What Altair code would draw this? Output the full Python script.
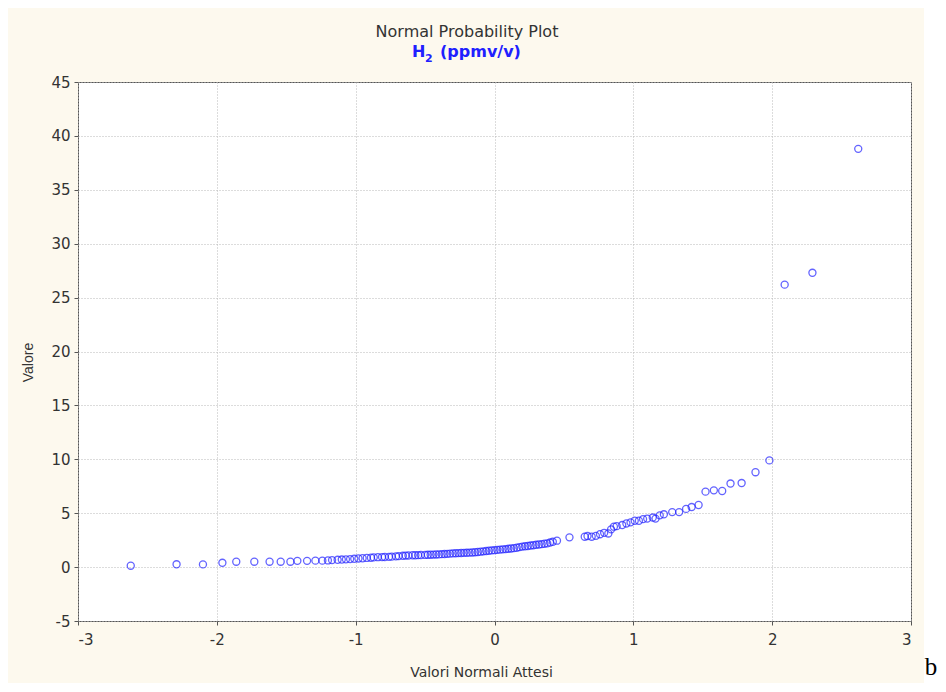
import altair as alt
import pandas as pd

x_vals = [
    -2.62, -2.29, -2.10, -1.96, -1.86, -1.73, -1.62, -1.54, -1.47, -1.42, -1.35, -1.29,
    -1.24, -1.20, -1.17, -1.13, -1.10, -1.07, -1.04, -1.01, -0.98, -0.95, -0.92, -0.89,
    -0.87, -0.84, -0.81, -0.79, -0.76, -0.74, -0.71, -0.69, -0.66, -0.64, -0.62, -0.59,
    -0.57, -0.55, -0.53, -0.50, -0.48, -0.46, -0.44, -0.42, -0.40, -0.38, -0.36, -0.34,
    -0.32, -0.30, -0.28, -0.26, -0.24, -0.22, -0.20, -0.18, -0.16, -0.14, -0.12, -0.10,
    -0.08, -0.06, -0.04, -0.02, 0.00, 0.02, 0.04, 0.06, 0.08, 0.10, 0.12, 0.14,
    0.16, 0.18, 0.20, 0.22, 0.24, 0.26, 0.28, 0.30, 0.32, 0.34, 0.36, 0.38,
    0.40, 0.42, 0.45,
    0.54, 0.65, 0.67, 0.70, 0.73, 0.76, 0.79, 0.82, 0.84, 0.86, 0.88, 0.92,
    0.95, 0.98, 1.01, 1.04, 1.07, 1.10, 1.14, 1.16, 1.19, 1.22, 1.28, 1.33,
    1.38, 1.42, 1.47, 1.52, 1.58, 1.64, 1.70, 1.78, 1.88, 1.98, 2.09, 2.29, 2.62,
]
y_vals = [
    0.13, 0.26, 0.25, 0.40, 0.50, 0.50, 0.50, 0.50, 0.50, 0.58, 0.58, 0.60,
    0.60, 0.62, 0.65, 0.68, 0.70, 0.72, 0.74, 0.77, 0.80, 0.82, 0.85, 0.87,
    0.90, 0.92, 0.93, 0.94, 0.95, 0.97, 1.00, 1.02, 1.05, 1.07, 1.08, 1.10,
    1.10, 1.11, 1.12, 1.13, 1.14, 1.15, 1.16, 1.17, 1.18, 1.20, 1.21, 1.23,
    1.25, 1.27, 1.29, 1.30, 1.31, 1.32, 1.33, 1.34, 1.36, 1.38, 1.40, 1.43,
    1.46, 1.49, 1.52, 1.55, 1.57, 1.60, 1.62, 1.65, 1.67, 1.70, 1.73, 1.76,
    1.80, 1.85, 1.90, 1.93, 1.96, 2.00, 2.03, 2.07, 2.10, 2.13, 2.17, 2.20,
    2.28, 2.35, 2.45,
    2.76, 2.82, 2.88, 2.82, 2.90, 3.05, 3.18, 3.12, 3.50, 3.75, 3.80, 3.90,
    4.05, 4.15, 4.30, 4.30, 4.45, 4.50, 4.60, 4.50, 4.80, 4.90, 5.10, 5.10,
    5.40, 5.57, 5.76, 7.00, 7.12, 7.06, 7.75, 7.80, 8.80, 9.90, 26.20, 27.30, 38.80,
]

x_ticks = [-3, -2, -1, 0, 1, 2, 3]
y_ticks = [-5, 0, 5, 10, 15, 20, 25, 30, 35, 40, 45]

title_text = "Normal Probability Plot"
sub_main = "H"
sub_index = "2"
sub_rest = "(ppmv/v)"

df = pd.DataFrame({"x": x_vals, "y": y_vals})

W, H = 833, 539
FONT = "DejaVu Sans"
VFONT = "Liberation Sans"
BLUE = "#2020ff"

points = alt.Chart(df).mark_point(
    shape="circle", filled=False, color="#2222ff", size=50, strokeWidth=1.3
).encode(
    x=alt.X("x:Q", scale=alt.Scale(domain=[-3, 3], nice=False, zero=False),
            axis=alt.Axis(values=x_ticks, title="Valori Normali Attesi",
                          labelExpr="toString(datum.value)", titleX=403)),
    y=alt.Y("y:Q", scale=alt.Scale(domain=[-5, 45], nice=False, zero=False),
            axis=alt.Axis(values=y_ticks, title="Valore",
                          labelExpr="toString(datum.value)", titleY=280)),
)

one = pd.DataFrame({"a": [0]})
white_strip = alt.Chart(one).mark_rect(color="white").encode(
    x=alt.value(W + 13), x2=alt.value(W + 27), y=alt.value(-74), y2=alt.value(H + 62)
)
letter_b = alt.Chart(one).mark_text(
    text="b", font="Liberation Serif", fontSize=25, color="black", align="center", baseline="alphabetic"
).encode(x=alt.value(W + 20), y=alt.value(H + 54))

title_mark = alt.Chart(one).mark_text(
    text=title_text, font=FONT, fontSize=16, color="#333333", align="center", baseline="alphabetic"
).encode(x=alt.value(389), y=alt.value(-45))
sub_h = alt.Chart(one).mark_text(
    text=sub_main, font=FONT, fontSize=16, fontWeight="bold", color=BLUE,
    align="left", baseline="alphabetic"
).encode(x=alt.value(334), y=alt.value(-25))
sub_2 = alt.Chart(one).mark_text(
    text=sub_index, font=FONT, fontSize=11, fontWeight="bold", color=BLUE,
    align="left", baseline="alphabetic"
).encode(x=alt.value(347), y=alt.value(-20))
sub_r = alt.Chart(one).mark_text(
    text=sub_rest, font=FONT, fontSize=16, fontWeight="bold", color=BLUE,
    align="left", baseline="alphabetic"
).encode(x=alt.value(362), y=alt.value(-25))

chart = alt.layer(white_strip, points, letter_b, title_mark, sub_h, sub_2, sub_r).properties(
    width=W, height=H,
    autosize=alt.AutoSizeParams(type="none"),
    padding={"left": 70, "top": 74, "right": 27, "bottom": 62},
    background="#fdf9ee",
).configure_view(
    fill="white", stroke="#555555", strokeWidth=1
).configure_axis(
    domain=False, grid=True, gridColor="#b8b8b8", gridDash=[1, 2], gridWidth=1,
    tickColor="#555555", tickSize=4, labelFont=FONT, labelFontSize=15, labelColor="#333333",
    titleFont=FONT, titleFontSize=14, titleFontWeight="normal", titleColor="#333333",
).configure_axisX(
    labelPadding=7, titlePadding=18
).configure_axisY(
    labelPadding=4, titlePadding=15, titleFont=VFONT, titleFontSize=14
)

chart.save("out.html", embed_options={"renderer": "svg", "actions": False})
